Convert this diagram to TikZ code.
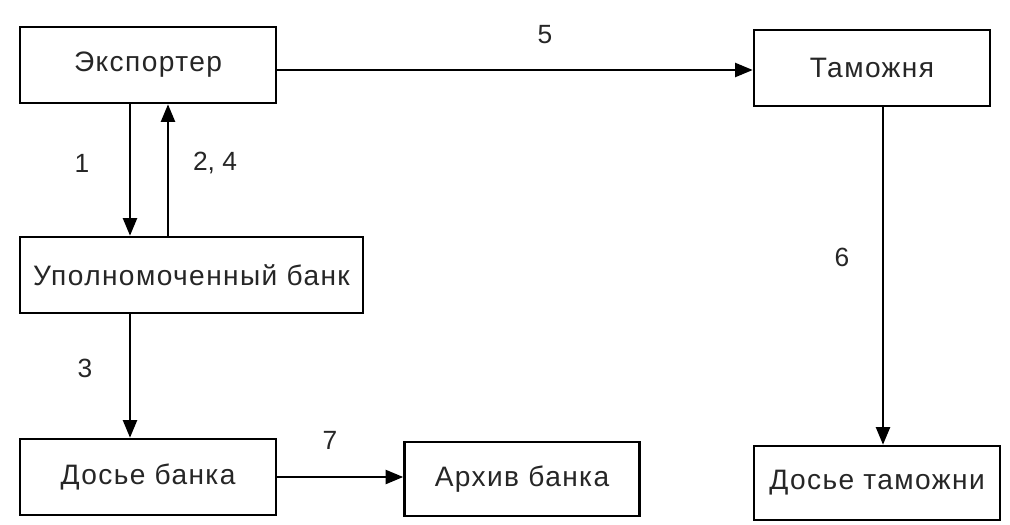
\documentclass[tikz,border=0pt]{standalone}
\usepackage{fontspec}
\setmainfont{Liberation Sans}
\newfontfamily\boxfont[LetterSpace=5]{Liberation Sans}
\usetikzlibrary{arrows.meta}

\begin{document}
\begin{tikzpicture}[x=0.02cm, y=-0.02cm,
  box/.style={draw, line width=1.5pt, inner sep=0pt, text=black!85, font=\boxfont\fontsize{16}{19}\selectfont},
  flow/.style={line width=1.2pt, -{Triangle[length=10pt, width=8pt]}},
  num/.style={text=black!85, font=\fontsize{15}{18}\selectfont}]
\useasboundingbox (0,0) rectangle (1010,524);
% blocks
\node [box, minimum width=256*0.02cm, minimum height=76*0.02cm] (exp)  at (148,65)  {Экспортер};
\node [box, minimum width=236*0.02cm, minimum height=76*0.02cm] (tam)  at (872,68)  {Таможня};
\node [box, minimum width=343*0.02cm, minimum height=76*0.02cm] (bank) at (191.5,275) {Уполномоченный банк};
\node [box, minimum width=256*0.02cm, minimum height=76*0.02cm] (dosb) at (148,477) {Досье банка};
\node [box, minimum width=235*0.02cm, minimum height=74*0.02cm] (arch) at (522,479) {Архив банка};
\node [box, minimum width=246*0.02cm, minimum height=74*0.02cm] (dost) at (877,483) {Досье таможни};
% arrows
\draw [flow] (130,0 |- exp.south) -- (130,0 |- bank.north);
\draw [flow] (168,0 |- bank.north) -- (168,0 |- exp.south);
\draw [flow] ([yshift=-0.1cm]exp.east) -- ([yshift=-0.1cm]exp.east -| tam.west);
\draw [flow] (883,0 |- tam.south) -- (883,0 |- dost.north);
\draw [flow] (130,0 |- bank.south) -- (130,0 |- dosb.north);
\draw [flow] (dosb.east) -- (dosb.east -| arch.west);
% numbers
\node [num] (l1)  at (82,163)  {1};
\node [num] (l24) at (215,163) {2, 4};
\node [num] (l5)  at (545,35)  {5};
\node [num] (l6)  at (842,257) {6};
\node [num] (l3)  at (85,368)  {3};
\node [num] (l7)  at (330,440) {7};
\end{tikzpicture}
\end{document}
